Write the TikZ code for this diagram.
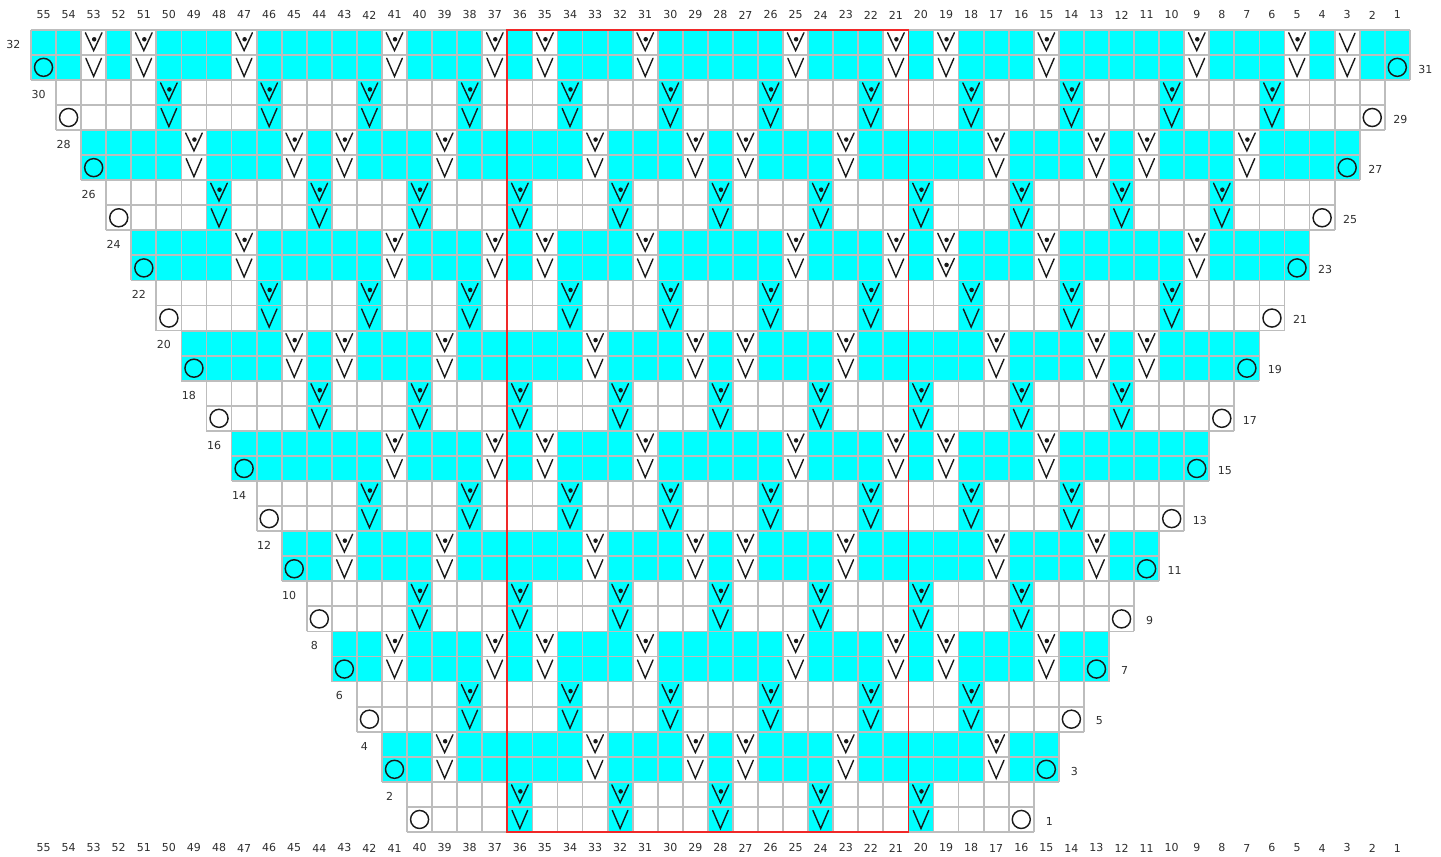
\documentclass[tikz,border=0pt]{standalone}
\usepackage{fontspec}
\setmainfont{DejaVu Sans}
\definecolor{chcyan}{HTML}{00FFFF}
\definecolor{gridgray}{HTML}{BDBDBD}
\definecolor{labgray}{HTML}{2E2E2E}
\definecolor{boxred}{HTML}{F02828}
\definecolor{symcol}{HTML}{1A1A1A}
\tikzset{
  gridline/.style={draw=gridgray, line width=1.8pt},
  symline/.style={draw=symcol, line width=1.4pt, line cap=round, line join=miter},
  yoline/.style={draw=symcol, line width=1.45pt},
  redbox/.style={draw=boxred, line width=1.8pt},
  numlab/.style={inner sep=0pt, text=labgray, font=\fontsize{11}{13}\selectfont},
  pics/slipv/.style={code={\draw[symline] (-0.31,0.36) -- (0,-0.36) -- (0.31,0.36);}},
  pics/slipdot/.style={code={\draw[symline] (-0.33,0.38) -- (0,-0.33) -- (0.33,0.38);
      \fill[symcol] (0.02,0.12) circle (0.09);}},
}
\begin{document}
\begin{tikzpicture}[x=25.07pt,y=25.07pt]
\useasboundingbox (-1.2365,-0.9972) rectangle (56.2425,33.187);
\foreach \k/\cols in {
  1/{36,32,28,24,20},
  2/{39,33,29,27,23,17},
  3/{38,34,30,26,22,18},
  4/{41,37,35,31,25,21,19,15},
  5/{40,36,32,28,24,20,16},
  6/{43,39,33,29,27,23,17,13},
  7/{42,38,34,30,26,22,18,14},
  8/{41,37,35,31,25,21,19,15},
  9/{44,40,36,32,28,24,20,16,12},
  10/{45,43,39,33,29,27,23,17,13,11},
  11/{46,42,38,34,30,26,22,18,14,10},
  12/{47,41,37,35,31,25,21,19,15,9},
  13/{48,44,40,36,32,28,24,20,16,12,8},
  14/{49,45,43,39,33,29,27,23,17,13,11,7},
  15/{50,46,42,38,34,30,26,22,18,14,10,6},
  16/{53,51,47,41,37,35,31,25,21,19,15,9,5,3}}{
  \pgfmathtruncatemacro{\L}{16-\k}
  \pgfmathtruncatemacro{\R}{39+\k}
  \pgfmathtruncatemacro{\B}{2*\k-2}
  \pgfmathtruncatemacro{\E}{2*\k}
  \pgfmathtruncatemacro{\O}{2*\k-1}
  \ifodd\k\relax \def\base{white}\def\alt{chcyan}\else \def\base{chcyan}\def\alt{white}\fi
  \fill[\base] (\L,\B) rectangle (\R,\B+2);
  \foreach \c in \cols {\fill[\alt] (55-\c,\B) rectangle (56-\c,\B+2);}
  \draw[gridline, step=1] (\L,\B) grid (\R,\B+2);
  \foreach \c in \cols {
    \pgfmathtruncatemacro{\ex}{((\k==12)&&(\c==19)) ? 1 : (((\k==16)&&(\c==3)) ? 2 : 0)}
    \ifcase\ex
      \pic at (55.5-\c,\B+0.5) {slipv}; \pic at (55.5-\c,\B+1.5) {slipdot};
    \or
      \pic at (55.5-\c,\B+0.5) {slipdot}; \pic at (55.5-\c,\B+1.5) {slipdot};
    \or
      \pic at (55.5-\c,\B+0.5) {slipv}; \pic at (55.5-\c,\B+1.5) {slipv};
    \fi
  }
  \draw[yoline] (\L+0.5,\B+0.5) circle (0.36);
  \draw[yoline] (\R-0.5,\B+0.5) circle (0.36);
  \node[numlab] (row\E) at (\L-0.7,\B+1.43) {\E};
  \node[numlab] (row\O) at (\R+0.62,\B+0.43) {\O};
}
\foreach \c in {1,...,55} {
  \node[numlab] (top\c) at (55.5-\c,32.59) {\c};
  \node[numlab] (bot\c) at (55.5-\c,-0.638) {\c};
}
\draw[redbox] (19,0) rectangle (35,32);
\end{tikzpicture}
\end{document}
